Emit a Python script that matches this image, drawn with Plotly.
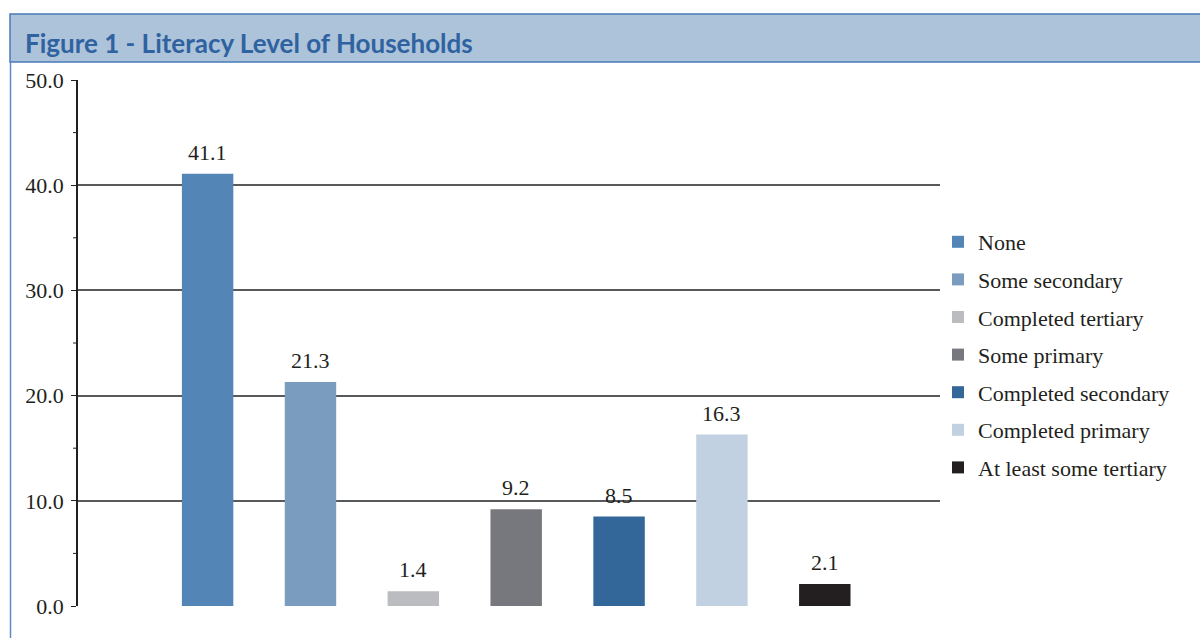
import plotly.graph_objects as go

# Literacy level of households (%)
categories = [
    "None",
    "Some secondary",
    "Completed tertiary",
    "Some primary",
    "Completed secondary",
    "Completed primary",
    "At least some tertiary",
]
values = [41.1, 21.3, 1.4, 9.2, 8.5, 16.3, 2.1]
colors = ["#5386b6", "#7a9cbf", "#bbbcc0", "#76787d", "#336699", "#c1d1e2", "#231f20"]
tick_values = [0, 10, 20, 30, 40, 50]
tick_labels = ["0.0", "10.0", "20.0", "30.0", "40.0", "50.0"]

SERIF = "Liberation Serif, Times New Roman, serif"

fig = go.Figure()
for i, (name, val) in enumerate(zip(categories, values)):
    fig.add_trace(
        go.Bar(
            x=[name],
            y=[val],
            name=name,
            legendgroup=name,
            width=0.5,
            marker={"color": colors[i], "line": {"width": 0}},
        )
    )
    # value label above each bar
    fig.add_annotation(
        x=name, y=val, text=f"{val:.1f}", showarrow=False,
        yanchor="bottom", yshift=7,
        font={"family": SERIF, "size": 22, "color": "#231f20"},
    )

# plot area spans px 78..940 horizontally, 80..606 vertically
L, R, T, B = 78, 260, 80, 32
W, H = 1200 - L - R, 638 - T - B


def px(x):
    return (x - L) / W


def py(y):
    return (638 - B - y) / H


# header band and frame
fig.add_shape(type="rect", xref="paper", yref="paper",
              x0=px(10), x1=px(1210), y0=py(62), y1=py(14),
              fillcolor="#adc3d9", line={"color": "#4a7ab8", "width": 1.5}, layer="below")
fig.add_shape(type="line", xref="paper", yref="paper",
              x0=px(10.5), x1=px(10.5), y0=py(62), y1=py(650),
              line={"color": "#5b8bc4", "width": 1.5})

# minor ticks at the half steps
for v in [5, 15, 25, 35, 45]:
    fig.add_shape(type="line", xref="paper", yref="y",
                  x0=px(73), x1=px(78), y0=v, y1=v,
                  line={"color": "#231f20", "width": 1})

fig.add_annotation(
    text="<b>Figure 1 - Literacy Level of Households</b>",
    xref="paper", yref="paper", x=px(23), y=py(43),
    xanchor="left", yanchor="middle", showarrow=False,
    font={"family": "Lato, Open Sans, sans-serif", "size": 26, "color": "#2f62a0"},
)

fig.update_layout(
    width=1200,
    height=638,
    margin={"l": L, "r": R, "t": T, "b": B, "pad": 0},
    plot_bgcolor="white",
    paper_bgcolor="white",
    barmode="overlay",
    showlegend=True,
    legend={
        "x": px(938), "y": py(221), "xanchor": "left", "yanchor": "top",
        "font": {"family": SERIF, "size": 22, "color": "#231f20"},
        "tracegroupgap": 6,
        "itemwidth": 30,
        "bgcolor": "rgba(0,0,0,0)",
    },
    xaxis={
        "range": [-1.26, 7.12],
        "showticklabels": False,
        "ticks": "",
        "showgrid": False,
        "showline": False,
        "zeroline": False,
        "fixedrange": True,
    },
    yaxis={
        "range": [0, 50],
        "tickvals": tick_values,
        "ticktext": tick_labels,
        "tickfont": {"family": SERIF, "size": 22, "color": "#231f20"},
        "ticks": "outside",
        "ticklen": 5,
        "tickcolor": "#231f20",
        "ticklabelstandoff": 3,
        "showgrid": True,
        "gridcolor": "#58595b",
        "gridwidth": 1.5,
        "showline": True,
        "linecolor": "#231f20",
        "linewidth": 1.5,
        "zeroline": False,
    },
)

fig.write_html(
    "out.html",
    config={"displayModeBar": False},
    post_script="document.body.style.margin='0';",
)
